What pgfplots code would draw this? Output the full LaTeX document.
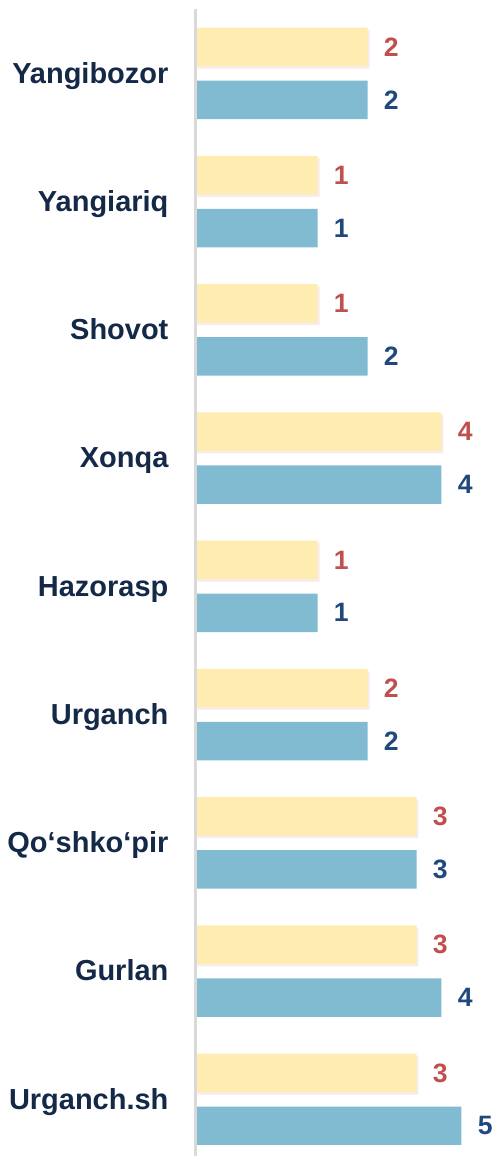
\documentclass[border=0pt]{standalone}
\usepackage{pgfplots}
\pgfplotsset{compat=1.18}
\usepackage{fontspec}
\setmainfont{Liberation Sans}
\usetikzlibrary{shadows}

\definecolor{baryellow}{RGB}{255,236,176}
\definecolor{barblue}{RGB}{128,187,209}
\definecolor{labred}{RGB}{192,80,77}
\definecolor{labblue}{RGB}{31,73,125}
\definecolor{catnavy}{RGB}{20,40,72}
\definecolor{axisgray}{RGB}{217,217,217}

% bar lengths are read off the picture (px from the axis); labels are the printed values
\begin{document}
\begin{tikzpicture}
\begin{axis}[
    xbar,
    x=0.5pt, y=64.2pt,
    y dir=reverse,
    xmin=0, xmax=297,
    ymin=-0.502, ymax=8.438,
    axis on top,
    axis x line=none,
    axis y line*=left,
    y axis line style={draw=axisgray, line width=1.5pt},
    ytick={0,1,2,3,4,5,6,7,8},
    yticklabels={Yangibozor,Yangiariq,Shovot,Xonqa,Hazorasp,Urganch,Qo‘shko‘pir,Gurlan,Urganch.sh},
    ytick style={draw=none},
    yticklabel style={font=\fontsize{14.5}{16}\selectfont\bfseries, text=catnavy,
        inner sep=0pt, anchor=base east, xshift=-9pt, yshift=-4.9pt},
    bar width=0.3,
    clip=false,
    nodes near coords,
    point meta=explicit symbolic,
    every node near coord/.append style={font=\fontsize{13.3}{15}\selectfont\bfseries, inner sep=0pt, anchor=west, xshift=8pt},
]
\addplot+[bar shift=-0.206, draw=none, fill=baryellow,
    drop shadow={shadow xshift=1pt, shadow yshift=-1.2pt, fill=labred!25!white, opacity=0.45},
    every node near coord/.append style={text=labred}] coordinates {
    (172.5,0) [2] (122.5,1) [1] (122.5,2) [1] (246.5,3) [4] (122.5,4) [1]
    (172.5,5) [2] (221.5,6) [3] (221.5,7) [3] (221.5,8) [3]
};
\addplot+[bar shift=0.206, draw=none, fill=barblue,
    every node near coord/.append style={text=labblue}] coordinates {
    (172.5,0) [2] (122.5,1) [1] (172.5,2) [2] (246.5,3) [4] (122.5,4) [1]
    (172.5,5) [2] (221.5,6) [3] (246.5,7) [4] (266.5,8) [5]
};
\path (axis cs:-195.5,-0.572) (axis cs:297,8.438);
\end{axis}
\end{tikzpicture}
\end{document}
